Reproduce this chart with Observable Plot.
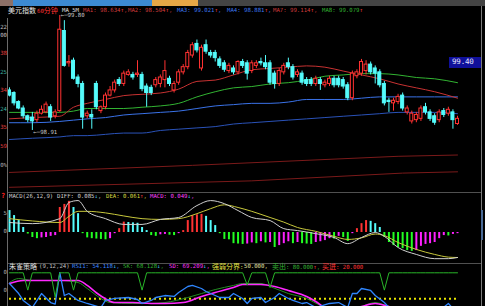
<!DOCTYPE html>
<html><head><meta charset="utf-8">
<script src="https://cdn.jsdelivr.net/npm/d3@7"></script>
<script src="https://cdn.jsdelivr.net/npm/@observablehq/plot@0.6"></script>
<style>
html,body{margin:0;padding:0;background:#000;}
#root{position:relative;width:485px;height:306px;overflow:hidden;background:#000;font-family:"DejaVu Sans Mono",monospace;}
.t{position:absolute;white-space:pre;font-size:5.67px;line-height:7px;}
.cjk{font-family:"Noto Sans CJK SC",sans-serif;font-size:7px;}
.pane{position:absolute;left:0;width:485px;overflow:hidden;}
.bx{position:absolute;}
</style></head><body><div id="root"></div>
<script>
// ---------- DATA ----------
const candleOpen = [99.22,99.20,99.13,99.08,99.02,99.01,98.99,99.04,99.05,99.09,99.02,99.06,99.68,99.43,99.45,99.32,99.27,99.02,99.03,99.27,99.06,99.09,99.18,99.22,99.30,99.27,99.34,99.34,99.34,99.34,99.25,99.24,99.26,99.27,99.30,99.31,99.22,99.28,99.36,99.40,99.49,99.58,99.39,99.57,99.51,99.51,99.46,99.43,99.37,99.39,99.36,99.44,99.43,99.37,99.41,99.44,99.43,99.43,99.35,99.27,99.36,99.43,99.40,99.34,99.35,99.30,99.30,99.27,99.30,99.26,99.27,99.31,99.31,99.30,99.26,99.16,99.33,99.35,99.37,99.42,99.39,99.36,99.27,99.14,99.12,99.13,99.18,99.05,98.98,98.99,99.00,99.09,99.05,99.02,98.99,99.06,99.04,99.05,98.96];
const candleClose = [99.18,99.12,99.08,99.02,98.99,98.98,99.04,99.07,99.11,99.01,99.05,99.69,99.41,99.44,99.31,99.27,99.01,99.04,99.01,99.09,99.09,99.18,99.22,99.28,99.27,99.35,99.36,99.32,99.35,99.23,99.20,99.20,99.30,99.32,99.37,99.27,99.27,99.36,99.40,99.51,99.57,99.53,99.55,99.52,99.49,99.47,99.41,99.38,99.41,99.36,99.44,99.41,99.35,99.43,99.43,99.43,99.40,99.28,99.27,99.37,99.41,99.40,99.32,99.36,99.28,99.27,99.27,99.31,99.27,99.28,99.31,99.26,99.26,99.25,99.16,99.35,99.36,99.44,99.42,99.36,99.35,99.26,99.12,99.13,99.14,99.17,99.08,99.08,99.04,99.03,99.08,99.05,99.00,98.97,99.05,99.03,99.07,98.99,99.00];
const candleHigh = [99.24,99.21,99.14,99.10,99.03,99.05,99.06,99.10,99.13,99.11,99.07,99.80,99.76,99.49,99.47,99.34,99.29,99.06,99.07,99.29,99.10,99.20,99.25,99.30,99.32,99.37,99.38,99.36,99.45,99.36,99.27,99.26,99.32,99.34,99.45,99.33,99.29,99.38,99.42,99.53,99.59,99.61,99.57,99.61,99.53,99.53,99.48,99.45,99.43,99.41,99.45,99.46,99.45,99.45,99.45,99.47,99.49,99.45,99.37,99.39,99.43,99.47,99.42,99.38,99.37,99.32,99.32,99.33,99.32,99.30,99.33,99.33,99.33,99.32,99.28,99.37,99.38,99.46,99.45,99.44,99.41,99.38,99.29,99.16,99.16,99.19,99.20,99.10,99.06,99.05,99.10,99.12,99.07,99.04,99.07,99.08,99.09,99.07,99.02];
const candleLow = [99.17,99.10,99.07,99.00,98.97,98.91,98.97,99.03,99.04,98.98,99.00,99.05,99.40,99.40,99.30,99.24,98.92,99.00,98.92,99.07,99.04,99.07,99.17,99.20,99.25,99.25,99.33,99.30,99.32,99.21,99.09,99.18,99.24,99.24,99.24,99.25,99.20,99.26,99.34,99.38,99.47,99.51,99.37,99.50,99.47,99.44,99.39,99.36,99.35,99.34,99.34,99.39,99.30,99.35,99.39,99.41,99.38,99.26,99.23,99.25,99.34,99.38,99.30,99.32,99.26,99.25,99.25,99.25,99.22,99.24,99.25,99.24,99.24,99.23,99.14,99.14,99.31,99.33,99.34,99.34,99.27,99.24,99.10,99.05,99.06,99.11,99.06,99.03,98.96,98.97,98.98,99.03,98.98,98.95,98.97,99.01,99.02,98.92,98.95];

// moving-average style lines, sampled at candle indices
const maIdx = [0,5,11,14,17,21,25,29,33,37,41,45,49,53,57,61,65,69,73,77,81,85,89,93,98];
const maRed = [99.00,99.01,99.02,99.09,99.12,99.15,99.18,99.19,99.20,99.23,99.29,99.30,99.34,99.38,99.39,99.40,99.41,99.40,99.37,99.34,99.31,99.27,99.24,99.21,99.16];
const maGreen = [99.05,99.05,99.05,99.06,99.08,99.08,99.08,99.09,99.10,99.12,99.17,99.21,99.24,99.25,99.27,99.28,99.30,99.33,99.34,99.35,99.35,99.34,99.32,99.31,99.28];
const maBlue = [98.97,98.97,98.98,98.99,99.00,99.01,99.03,99.04,99.05,99.06,99.08,99.10,99.11,99.12,99.12,99.13,99.15,99.15,99.15,99.16,99.17,99.17,99.17,99.17,99.17];
const maNavy = [98.84,98.85,98.86,98.87,98.87,98.88,98.89,98.89,98.91,98.92,98.93,98.94,98.96,98.97,98.98,98.99,99.00,99.01,99.02,99.03,99.04,99.05,99.05,99.05,99.04];
const bandIdxA = [0,40,85,98];
const bandA = [98.585,98.64,98.71,98.72];
const bandIdxB = [0,53,86,98];
const bandB = [98.47,98.52,98.58,98.59];

// MACD
const macdHist = [0.057,0.044,0.031,0.013,-0.004,-0.013,-0.016,-0.014,-0.013,-0.010,-0.008,0.065,0.073,0.081,0.065,0.049,-0.003,-0.014,-0.016,-0.017,-0.018,-0.019,-0.016,-0.003,0.010,0.027,0.026,0.025,0.024,0.013,0.005,-0.008,-0.010,-0.006,-0.005,-0.007,-0.008,-0.003,0.005,0.031,0.044,0.046,0.047,0.042,0.031,0.018,-0.003,-0.018,-0.019,-0.029,-0.030,-0.031,-0.030,-0.027,-0.029,-0.024,-0.027,-0.026,-0.039,-0.034,-0.029,-0.024,-0.029,-0.026,-0.029,-0.030,-0.031,-0.026,-0.024,-0.021,-0.016,-0.017,-0.010,-0.013,-0.023,-0.003,0.010,0.023,0.031,0.029,0.023,0.013,-0.013,-0.026,-0.034,-0.039,-0.042,-0.047,-0.049,-0.047,-0.036,-0.031,-0.029,-0.026,-0.016,-0.008,-0.009,-0.005,-0.003];
const macdIdx = [0,5,11,13,15,17,21,25,29,33,37,41,44,47,50,53,57,60,63,67,71,74,77,80,82,85,89,93,96,98];
const diffVals = [0.026,0.023,0.036,0.078,0.083,0.055,0.036,0.021,0.021,0.034,0.039,0.070,0.083,0.075,0.057,0.039,0.031,0.010,0.005,-0.003,-0.013,-0.029,-0.013,0.000,-0.010,-0.039,-0.057,-0.068,-0.068,-0.065];
const deaVals = [0.036,0.030,0.026,0.042,0.055,0.055,0.051,0.043,0.036,0.034,0.036,0.049,0.062,0.072,0.065,0.055,0.039,0.027,0.013,0.003,-0.010,-0.018,-0.014,-0.004,-0.008,-0.026,-0.044,-0.057,-0.064,-0.065];

// RSI strategy pane
const rsiIdx = [0,2,3,5,7,9,10,11,12,13,15,17,20,21,23,26,28,29,31,32,34,36,37,39,40,42,43,46,48,49,51,52,53,55,56,58,59,61,62,64,65,67,70,72,74,75,76,77,79,80,82,83,86,90,94,96,97,98];
const rsiVals = [67.7,56.1,48.1,40,56.1,45.7,44,80.3,53.8,56.1,48.1,44.6,40,48.1,50.4,51.5,49.2,44.6,48.1,51.5,53.8,52.7,57.3,64.2,65.4,61.9,58.4,51.5,51.5,56.1,50.4,44.6,50.4,51.5,45.7,51.5,56.1,50.4,48.1,44.6,45.7,40,44.6,45.7,40,56.1,56.1,61.9,59.6,53.8,45.7,40,34,33,36,44.6,38.8,36];
const sdIdx = [0,3,5,10,15,17,19,21,23,27,31,34,38,42,45,49,51,55,58,61,65,67,69,73,77,80,83,90,98];
const sdVals = [67.7,71.1,71.1,71.1,71.1,65.4,57,50,45.7,45.7,44.6,44.6,45.7,52.7,57.3,63.0,66.5,66.5,64.2,59.6,52.7,46.9,40.0,35,41.1,44.6,41.1,35,33];
const skIdx = [0,2,5,11,15,17,20,22,27,31,34,39,42,45,49,51,55,57,61,65,68,70,73,77,80,83,90,98];
const skVals = [68.8,73.4,71.1,71.1,68.8,61.9,50.4,45.7,44.6,44.6,45.7,51.5,56.1,60.7,65.4,67.7,67.7,64.2,56.1,50.4,42.3,38.8,34,41.1,45.7,41.1,34,32];
const sellLevel = 80, divideLevel = 50;
const sellDipIdx = [4,10,14,29,52,57,82];
const sellDipVal = [60,52,60,60,66,63,60];

// ---------- BUILD ----------
const N = candleOpen.length;
const candles = d3.range(N).map(i => ({i, open: candleOpen[i], close: candleClose[i], high: candleHigh[i], low: candleLow[i], up: candleClose[i] >= candleOpen[i]}));
const pts = (idx, vals) => idx.map((i, k) => ({i, v: vals[k]}));
const RED = "#ff3232", CYAN = "#54fcfc";
const X = {type: "linear", domain: [0, N - 1], range: [9, 457], axis: null};
const root = document.getElementById("root");

function pane(top, h, node) {
  const d = document.createElement("div");
  d.className = "pane"; d.style.top = top + "px"; d.style.height = h + "px";
  d.appendChild(node); root.appendChild(d);
}
const hi = candles.reduce((a, b) => b.high > a.high ? b : a);
const lo = candles.reduce((a, b) => b.low < a.low ? b : a);

const main = Plot.plot({
  width: 485, height: 192, margin: 0,
  style: {background: "transparent"},
  x: X,
  y: {domain: [98.45, 99.80], range: [189.4, 15], axis: null},
  color: {type: "identity"},
  marks: [
    Plot.line(pts(bandIdxB, bandB), {x: "i", y: "v", stroke: "#7a1a1a", strokeWidth: 1}),
    Plot.line(pts(bandIdxA, bandA), {x: "i", y: "v", stroke: "#7a1a1a", strokeWidth: 1}),
    Plot.line(pts(maIdx, maNavy), {x: "i", y: "v", stroke: "#2a52b8", strokeWidth: 1, curve: "monotone-x"}),
    Plot.line(pts(maIdx, maBlue), {x: "i", y: "v", stroke: "#3a72e8", strokeWidth: 1, curve: "monotone-x"}),
    Plot.line(pts(maIdx, maGreen), {x: "i", y: "v", stroke: "#32b432", strokeWidth: 1, curve: "monotone-x"}),
    Plot.line(pts(maIdx, maRed), {x: "i", y: "v", stroke: "#c83232", strokeWidth: 1, curve: "monotone-x"}),
    Plot.ruleX(candles, {x: "i", y1: "low", y2: "high", stroke: d => d.up ? RED : CYAN, strokeWidth: 1}),
    Plot.rect(candles, {x1: d => d.i - 0.33, x2: d => d.i + 0.33, y1: "open", y2: "close", fill: d => d.up ? "#000" : CYAN, stroke: d => d.up ? RED : CYAN, strokeWidth: 1}),
    Plot.text([hi], {x: "i", y: "high", text: d => "←─" + d.high.toFixed(2), textAnchor: "start", dx: 1, fill: "#c8c8c8", fontSize: 5.67, fontFamily: "DejaVu Sans Mono"}),
    Plot.text([lo], {x: "i", y: "low", text: d => "←─" + d.low.toFixed(2), textAnchor: "start", dx: 1, dy: 2, fill: "#c8c8c8", fontSize: 5.67, fontFamily: "DejaVu Sans Mono"})
  ]
});
pane(0, 192, main);

const macdBars = macdHist.map((v, i) => {
  const prev = i === 0 ? Infinity : macdHist[i - 1];
  const c = v >= 0 ? (v >= prev ? RED : CYAN) : (v <= prev ? "#22ff22" : "#ff20ff");
  return {i, v, c};
});
const macd = Plot.plot({
  width: 485, height: 70, margin: 0,
  style: {background: "transparent"},
  x: X,
  y: {domain: [-0.06, 0.09], range: [63.08, 5.38], axis: null},
  color: {type: "identity"},
  marks: [
    Plot.ruleX(macdBars, {x: "i", y1: 0, y2: "v", stroke: "c", strokeWidth: 2}),
    Plot.line(pts(macdIdx, deaVals), {x: "i", y: "v", stroke: "#c8c83c", strokeWidth: 1, curve: "monotone-x"}),
    Plot.line(pts(macdIdx, diffVals), {x: "i", y: "v", stroke: "#d0d0d0", strokeWidth: 1, curve: "monotone-x"})
  ]
});
pane(192, 70, macd);

const dipMap = new Map(sellDipIdx.map((i, k) => [i, sellDipVal[k]]));
const sellLine = d3.range(N).map(i => ({i, v: dipMap.has(i) ? dipMap.get(i) : sellLevel}));
const rsi = Plot.plot({
  width: 485, height: 44, margin: 0,
  style: {background: "transparent"},
  x: X,
  y: {domain: [30, 100], range: [53.65, -7.04], axis: null},
  marks: [
    Plot.ruleY([divideLevel], {x1: 0, x2: N - 1, stroke: "#e8e800", strokeWidth: 2, strokeDasharray: "2,3", clip: true}),
    Plot.line(pts(skIdx, skVals), {x: "i", y: "v", stroke: "#238c23", strokeWidth: 1, curve: "monotone-x", clip: true}),
    Plot.line(pts(sdIdx, sdVals), {x: "i", y: "v", stroke: "#ff28ff", strokeWidth: 1.6, curve: "monotone-x", clip: true}),
    Plot.line(pts(rsiIdx, rsiVals), {x: "i", y: "v", stroke: "#2f86ff", strokeWidth: 1.3, clip: true}),
    Plot.line(sellLine, {x: "i", y: "v", stroke: "#28b428", strokeWidth: 1, clip: true})
  ]
});
pane(262, 44, rsi);

// ---------- DECORATION & TEXT ----------
function box(l, t, w, h, bg) {
  const d = document.createElement("div"); d.className = "bx";
  Object.assign(d.style, {left: l + "px", top: t + "px", width: w + "px", height: h + "px", background: bg});
  root.appendChild(d); return d;
}
function txt(l, t, html, extra) {
  const d = document.createElement("div"); d.className = "t";
  d.style.left = l + "px"; d.style.top = t + "px"; d.innerHTML = html;
  if (extra) Object.assign(d.style, extra);
  root.appendChild(d); return d;
}
const sp = (c, s, cls) => `<span style="color:${c}"${cls ? ` class="${cls}"` : ""}>${s}</span>`;
const UP = sp("#ff3c3c", "↑"), DN = sp("#40c8ff", "↓");

// top strip
box(0, 0, 13, 6, "#8c7068");
box(13, 0, 139, 6, "#3c8ad2");
box(152, 0, 46, 6, "#e6a646");
box(198, 0, 287, 6, "#444");
// borders / separators
box(7, 18, 1, 288, "#6a6a6a");
box(481, 6, 1, 300, "#7a7a7a");
box(481, 210, 2, 30, "#4a6a96");
box(8, 191.5, 473, 1, "#505050");
box(8, 262.5, 473, 1, "#505050");

// title row
const TT = 6.5;
txt(8, TT, sp("#e8e8e8", "美元指数", "cjk"));
txt(37, TT, sp("#ff3232", "60") + sp("#ff3232", "分钟", "cjk"));
txt(62, TT, sp("#e0e0e0", "MA_5M"));
const maItems = [[83, "MA1: 98.634", "#d23c3c", ","], [128, "MA2: 98.504", "#d23c3c", ","], [177, "MA3: 99.021", "#3c78f0", ","], [227, "MA4: 98.881", "#3c78f0", ","], [273, "MA7: 99.114", "#d23c3c", ","], [322, "MA8: 99.079", "#32b432", ""]];
maItems.forEach(([x, s, c, tail]) => txt(x, TT, sp(c, s) + UP + sp(c, tail)));

// left edge labels (clipped values)
[[27, "22", "#c0c0c0"], [35, "00", "#c0c0c0"], [53, "38", "#e03c3c"], [72, "25", "#3cb4a0"], [90, "34", "#e03c3c"], [109, "24", "#3cb4a0"], [127, "35", "#e03c3c"], [146, "59", "#e03c3c"], [165, "0%", "#b0b0b0"],
 [213, "5", "#b0b0b0"], [231, "0", "#b0b0b0"], [272, "0", "#b0b0b0"], [290, "0", "#b0b0b0"]]
  .forEach(([y, s, c]) => { const d = txt(0, y - 3.5, sp(c, s)); d.style.width = "7px"; d.style.textAlign = "right"; });

// price tag
const tag = box(449, 57, 32, 10.5, "#10109a");
tag.innerHTML = '<div style="font:7.5px \'DejaVu Sans Mono\',monospace;color:#e6e6ff;line-height:10.5px;padding-left:3px;letter-spacing:-0.2px">99.40</div>';

// MACD label
txt(1, 192.5, sp("#ff2020", "?"), {fontSize: "7px", fontWeight: "bold"});
const MT = 193;
txt(9, MT, sp("#d0d0d0", "MACD(26,12,9)"));
txt(57, MT, sp("#d0d0d0", "DIFF: 0.085") + DN + sp("#d0d0d0", ","));
txt(106, MT, sp("#d8d840", "DEA: 0.061") + UP + sp("#d8d840", ","));
txt(150, MT, sp("#ff40ff", "MACD: 0.049") + DN + sp("#ff40ff", ","));

// RSI label
const RT = 263;
txt(9, RT, sp("#e0e0e0", "朱雀策略", "cjk"));
txt(39, RT, sp("#c0c0c0", "(9,12,24)"));
txt(72, RT, sp("#3a86ff", "RSI1: 54.118") + DN + sp("#3a86ff", ","));
txt(123, RT, sp("#30b030", "SK: 68.128") + DN + sp("#30b030", ","));
txt(169, RT, sp("#ff30ff", "SD: 69.209") + DN + sp("#ff30ff", ","));
txt(212, RT, sp("#e0e040", "强弱分界", "cjk") + sp("#e0e040", ":"));
txt(244, RT, sp("#e0e0a0", "50.000,"));
txt(272, RT, sp("#30b030", "卖出", "cjk") + sp("#30b030", ": 80.000") + UP + sp("#30b030", ","));
txt(322, RT, sp("#ff3232", "买进", "cjk") + sp("#ff3232", ": 20.000"));
</script></body></html>
